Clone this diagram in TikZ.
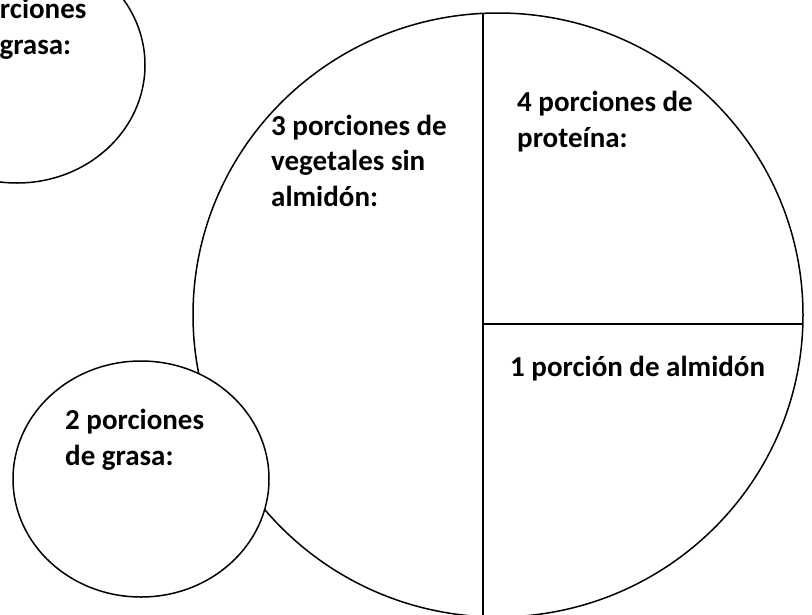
\documentclass[tikz,border=0pt]{standalone}
\usepackage{fontspec}
\setmainfont{Carlito}
\usetikzlibrary{positioning}

\tikzset{
  borde/.style={line width=1.5pt},
  rotulo/.style={inner sep=0pt, font=\bfseries\fontsize{29}{35.5}\selectfont}
}

\begin{document}
\begin{tikzpicture}[x=1pt, y=-1pt]
      \useasboundingbox (0, 0) rectangle (812, 614);
      \clip (0, 0) rectangle (812, 614);

      % plato grande
      \draw [borde] (498, 315) ellipse [x radius=305, y radius=302];
      \coordinate (arriba) at (483, 13.4);
      \coordinate (abajo) at (483, 616.6);
      \coordinate (centro) at (483, 324);
      \coordinate (derecha) at (802.9, 324);
      \draw [borde] (arriba) -- (abajo);
      \draw [borde] (centro) -- (derecha);

      % platos chicos
      \draw [borde, fill=white] (17, 65) ellipse [x radius=128, y radius=118];
      \draw [borde, fill=white] (141, 479) ellipse [x radius=128, y radius=118];

      % la base es la ultima linea
      \node [rotulo, anchor=base west, align=left] (vegetales) at (271, 206)
        {3 porciones de\\vegetales sin\\almidón:};
      \node [rotulo, anchor=base west, align=left] (proteina) at (517, 147)
        {4 porciones de\\proteína:};
      \node [rotulo, anchor=base west] (almidon) at (510, 376)
        {1 porción de almidón};
      \node [rotulo, anchor=base west, align=left] (grasa) at (65, 465)
        {2 porciones\\de grasa:};
      \node [rotulo, anchor=base, align=center] (grasaarriba) at (17, 54)
        {2 porciones\\de grasa:};
\end{tikzpicture}
\end{document}
